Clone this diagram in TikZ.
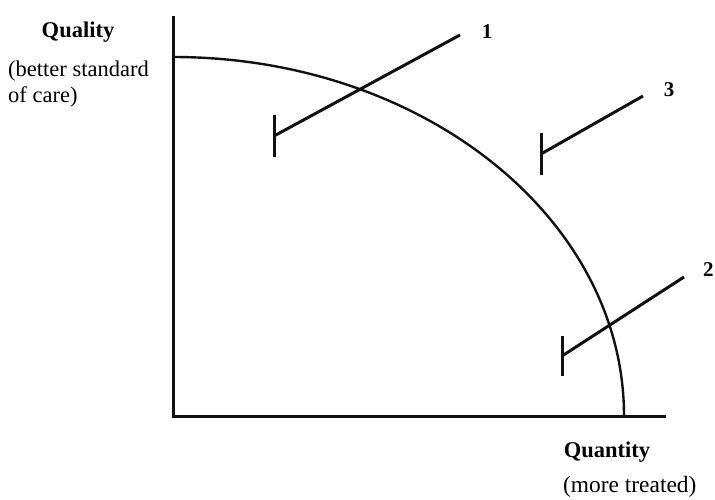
\documentclass[tikz,border=0pt]{standalone}
\usepackage{fontspec}
\setmainfont{Liberation Serif}
\usepackage{xcolor}
\definecolor{cInk}{HTML}{111111}
\usepackage{tikz}
\usetikzlibrary{positioning,calc}
\tikzset{
  axis-line/.style={draw=cInk,line width=3pt},
  frontier-line/.style={draw=cInk,line width=2.4pt},
  path-line/.style={draw=cInk,line width=3pt},
  tee-bar/.style={draw=cInk,line width=3pt},
  label-title/.style={font=\fontsize{22.5}{26}\selectfont\bfseries,inner sep=0pt},
  label-note/.style={font=\fontsize{22.5}{26}\selectfont,inner sep=0pt,align=left},
  label-num/.style={font=\fontsize{21}{24}\selectfont\bfseries,inner sep=0pt},
}

\begin{document}
\begin{tikzpicture}[x=1pt,y=1pt]
  \useasboundingbox (0,0) rectangle (715,499);
  % axes
  \coordinate (o) at (173,83);
  \coordinate (ytop) at (173,483);
  \coordinate (xend) at (666,83);
  \draw[axis-line] (ytop) -- (o) -- (xend);
  % frontier
  \coordinate (fstart) at (173,442);
  \draw[frontier-line] (fstart) arc[start angle=90,end angle=0,x radius=451,y radius=359];
  % paths 1, 2, 3
  \coordinate (p1a) at (274,363);
  \coordinate (p1b) at (460,464);
  \coordinate (p2a) at (562,143);
  \coordinate (p2b) at (684,222);
  \coordinate (p3a) at (541,345);
  \coordinate (p3b) at (643,403);
  \draw[path-line] (p1a) -- (p1b);
  \draw[path-line] (p2a) -- (p2b);
  \draw[path-line] (p3a) -- (p3b);
  \draw[tee-bar] ($(p1a)+(0,-21)$) -- ($(p1a)+(0,21)$);
  \draw[tee-bar] ($(p2a)+(0,-20)$) -- ($(p2a)+(0,20)$);
  \draw[tee-bar] ($(p3a)+(0,-21)$) -- ($(p3a)+(0,21)$);
  \node[label-num] (n1) at (487,467) {1};
  \node[label-num,anchor=west] (n2) at (703,229) {2};
  \node[label-num] (n3) at (669,409) {3};
  % axis labels
  \node[label-title] (qual) at (78,467) {Quality};
  \node[label-note,anchor=north west] (qualnote) at (8,438) {(better standard\\of care)};
  \node[label-title] (quan) at (607,47) {Quantity};
  \node[label-note,anchor=south west,font=\fontsize{23.4}{27}\selectfont] (quannote) at (563,1) {(more treated)};
\end{tikzpicture}
\end{document}
